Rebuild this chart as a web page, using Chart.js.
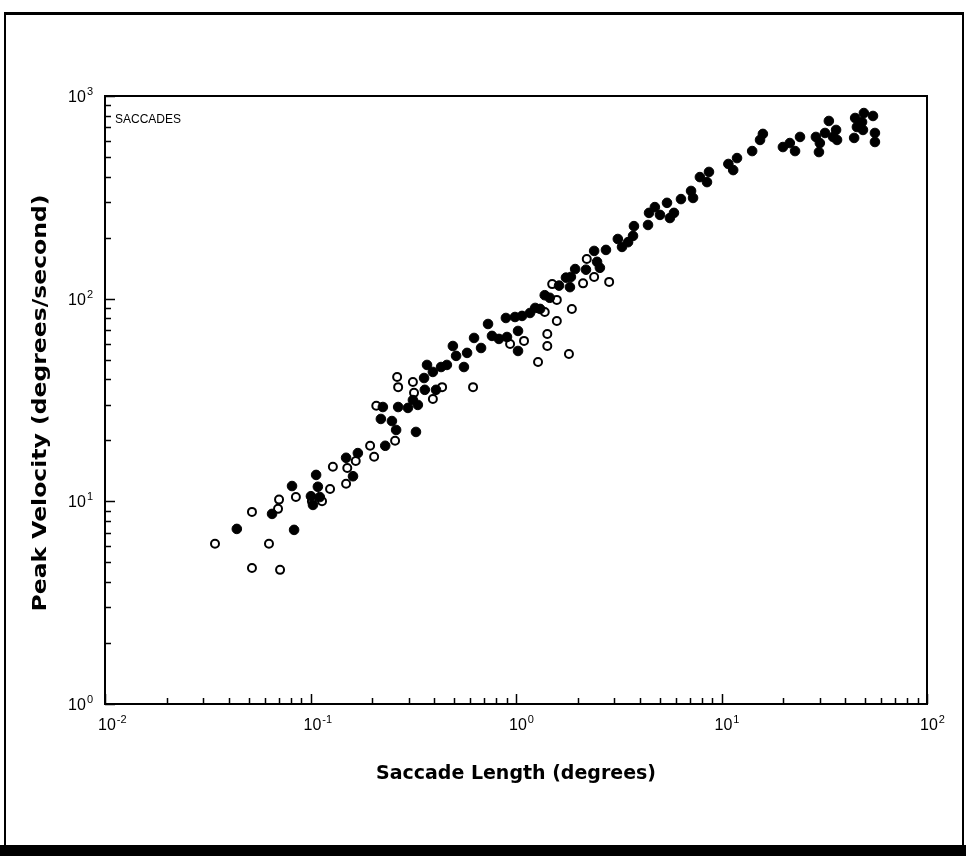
<!DOCTYPE html>
<html>
<head>
<meta charset="utf-8">
<title>Saccades</title>
<script src="https://cdn.jsdelivr.net/npm/chart.js@4.4.1/dist/chart.umd.min.js"></script>
<style>
  html, body { margin: 0; padding: 0; background: #fff; }
  body { width: 966px; height: 856px; position: relative; overflow: hidden; }
  #frame {
    position: absolute; left: 4px; top: 12px; width: 960px; height: 834px;
    box-sizing: border-box;
    border-top: 3px solid #000; border-left: 2px solid #000; border-right: 2px solid #000;
  }
  #bar { position: absolute; left: 0; top: 845px; width: 966px; height: 11px; background: #000; }
  #wrap { position: absolute; left: 0; top: 0; width: 966px; height: 856px; }
</style>
</head>
<body>
<div id="frame"></div>
<div id="bar"></div>
<div id="wrap"><canvas id="saccadeChart" width="966" height="856"></canvas></div>
<script>
// saccade length (degrees) / peak velocity (deg/s)
const filledLength = [
  0.0438, 0.0650, 0.0832, 0.0813, 0.1005, 0.1028, 0.1086, 0.111, 0.1065, 0.161,
  0.149, 0.170, 0.231, 0.220, 0.249, 0.261, 0.326, 0.225, 0.267, 0.298,
  0.315, 0.333, 0.360, 0.357, 0.369, 0.408, 0.394, 0.432, 0.461, 0.558,
  0.511, 0.578, 0.676, 0.493, 0.625, 0.731, 0.764, 0.826, 0.904, 1.023,
  1.023, 0.893, 0.989, 1.07, 1.17, 1.24, 1.31, 1.38, 1.46, 1.62,
  1.75, 1.83, 1.94, 1.85, 2.19, 2.40, 2.48, 2.56, 2.74, 3.13,
  3.28, 3.51, 3.71, 3.75, 4.39, 4.44, 4.74, 5.02, 5.43, 5.61,
  5.87, 6.35, 7.11, 7.27, 7.85, 8.50, 8.69, 10.8, 11.4, 11.9,
  14.1, 15.4, 15.9, 19.9, 21.5, 22.8, 24.1, 28.8, 30.1, 29.8,
  31.9, 33.3, 34.9, 36.1, 36.5, 44.2, 44.7, 45.6, 48.3, 49.3,
  48.8, 54.6, 55.8, 55.8
];
const filledVelocity = [
  7.31, 8.67, 7.23, 11.9, 10.6, 9.60, 11.8, 10.5, 13.5, 13.3,
  16.4, 17.3, 18.8, 25.5, 24.9, 22.5, 22.0, 29.2, 29.2, 28.9,
  31.6, 29.9, 35.5, 40.6, 47.1, 35.5, 43.5, 46.0, 47.1, 46.0,
  52.2, 54.0, 57.1, 58.4, 64.0, 75.0, 65.5, 63.3, 64.7, 69.3,
  55.2, 80.3, 81.2, 82.2, 85.0, 90.0, 89.0, 104, 101, 116,
  127, 114, 140, 128, 139, 172, 152, 142, 174, 197,
  180, 190, 204, 228, 231, 265, 283, 259, 297, 250,
  265, 310, 340, 314, 398, 376, 422, 462, 431, 494,
  535, 607, 650, 560, 586, 535, 628, 628, 586, 529,
  657, 753, 628, 680, 607, 621, 779, 703, 744, 824,
  680, 797, 657, 593
];
const openLength = [
  0.0343, 0.0519, 0.0628, 0.0519, 0.0711, 0.0695, 0.0703, 0.0849, 0.1016, 0.1138,
  0.1245, 0.1285, 0.149, 0.151, 0.166, 0.195, 0.204, 0.258, 0.209, 0.319,
  0.315, 0.264, 0.267, 0.394, 0.437, 0.618, 0.936, 1.094, 1.28, 1.38,
  1.42, 1.42, 1.58, 1.58, 1.81, 1.87, 1.50, 2.12, 2.40, 2.84,
  2.21
];
const openVelocity = [
  6.17, 8.87, 6.17, 4.69, 4.59, 9.18, 10.2, 10.5, 10.0, 10.0,
  11.5, 14.8, 12.2, 14.6, 15.8, 18.8, 16.6, 19.9, 29.6, 34.3,
  38.8, 41.1, 36.6, 32.0, 36.6, 36.6, 59.8, 61.9, 48.7, 86.0,
  67.0, 58.4, 77.6, 98.6, 53.3, 89.0, 118, 119, 128, 121,
  157
];

const xDecades = [0.01, 0.1, 1, 10, 100];
const xExponents = ["-2", "-1", "0", "1", "2"];
const yDecades = [1, 10, 100, 1000];
const yExponents = ["0", "1", "2", "3"];

const xTitle = "Saccade Length (degrees)";
const yTitle = "Peak Velocity (degrees/second)";
const panelLabel = "SACCADES";

const TITLE_FONT = "bold 19px 'DejaVu Sans', 'Liberation Sans', Arial, sans-serif";
const BASE_FONT = "16px 'Liberation Sans', Arial, sans-serif";
const SUP_FONT = "11px 'Liberation Sans', Arial, sans-serif";

function toPoints(xs, ys) {
    return xs.map((x, i) => ({ x: x, y: ys[i] }));
}

// draw a title squeezed / stretched to a target width
function fitText(ctx, text, cx, cy, width, font) {
    ctx.save();
    ctx.font = font;
    const w = ctx.measureText(text).width;
    ctx.translate(cx, cy);
    ctx.scale(width / w, 1);
    ctx.textAlign = "center";
    ctx.textBaseline = "middle";
    ctx.fillText(text, 0, 0);
    ctx.restore();
}

function power(ctx, exp, x, y, align) {
    ctx.font = BASE_FONT;
    const base = ctx.measureText("10").width;
    ctx.font = SUP_FONT;
    const sup = ctx.measureText(exp).width;
    let left = x;
    if (align === "right") left = x - base - sup - 1;
    ctx.font = BASE_FONT;
    ctx.fillText("10", left, y);
    ctx.font = SUP_FONT;
    ctx.fillText(exp, left + base + 1, y - 7);
}

const axesPlugin = {
    id: "logAxes",
    afterDraw(chart) {
        const { ctx, chartArea: a, scales } = chart;
        const xs = scales.x, ys = scales.y;
        ctx.save();
        ctx.strokeStyle = "#000";
        ctx.fillStyle = "#000";

        // box
        ctx.lineWidth = 2;
        ctx.strokeRect(a.left, a.top, a.right - a.left, a.bottom - a.top);

        // inward ticks, log spaced
        ctx.lineWidth = 1.5;
        ctx.beginPath();
        xDecades.forEach(d => {
            for (let m = 1; m <= 9; m++) {
                const v = d * m;
                if (v > xs.max * 1.0001) break;
                const px = Math.round(xs.getPixelForValue(v)) + 0.5;
                const len = m === 1 ? 10 : 6;
                ctx.moveTo(px, a.bottom);
                ctx.lineTo(px, a.bottom - len);
            }
        });
        yDecades.forEach(d => {
            for (let m = 1; m <= 9; m++) {
                const v = d * m;
                if (v > ys.max * 1.0001) break;
                const py = Math.round(ys.getPixelForValue(v)) + 0.5;
                const len = m === 1 ? 10 : 6;
                ctx.moveTo(a.left, py);
                ctx.lineTo(a.left + len, py);
            }
        });
        ctx.stroke();

        // tick labels 10^n
        ctx.textBaseline = "alphabetic";
        ctx.textAlign = "left";
        xDecades.forEach((d, i) => {
            const px = xs.getPixelForValue(d);
            power(ctx, xExponents[i], px - 7, a.bottom + 26, "left");
        });
        yDecades.forEach((d, i) => {
            const py = ys.getPixelForValue(d);
            power(ctx, yExponents[i], a.left - 12, py + 6, "right");
        });

        // axis titles
        fitText(ctx, xTitle, (a.left + a.right) / 2, 774, 280, TITLE_FONT);
        ctx.save();
        ctx.translate(41, (a.top + a.bottom) / 2 + 3);
        ctx.rotate(-Math.PI / 2);
        fitText(ctx, yTitle, 0, 0, 417, TITLE_FONT);
        ctx.restore();

        // panel label
        ctx.font = "12px 'Liberation Sans', Arial, sans-serif";
        ctx.textAlign = "left";
        ctx.textBaseline = "alphabetic";
        ctx.fillText(panelLabel, a.left + 10, a.top + 27);
        ctx.restore();
    }
};

const canvas = document.getElementById("saccadeChart");

new Chart(canvas, {
    type: "scatter",
    data: {
        datasets: [
            {
                label: "filled",
                data: toPoints(filledLength, filledVelocity),
                pointRadius: 4.8,
                pointBackgroundColor: "#000",
                pointBorderColor: "#000",
                pointBorderWidth: 1
            },
            {
                label: "open",
                data: toPoints(openLength, openVelocity),
                pointRadius: 4,
                pointBackgroundColor: "#fff",
                pointBorderColor: "#000",
                pointBorderWidth: 2
            }
        ]
    },
    options: {
        responsive: false,
        animation: false,
        layout: { padding: { top: 96, right: 39, left: 0, bottom: 0 } },
        plugins: {
            legend: { display: false },
            tooltip: { enabled: false }
        },
        scales: {
            x: {
                type: "logarithmic",
                min: 0.01,
                max: 100,
                grid: { display: false },
                border: { display: false },
                ticks: { display: false },
                afterFit(scale) { scale.height = 152; }
            },
            y: {
                type: "logarithmic",
                min: 1,
                max: 1000,
                grid: { display: false },
                border: { display: false },
                ticks: { display: false },
                afterFit(scale) { scale.width = 105; }
            }
        }
    },
    plugins: [axesPlugin]
});
</script>
</body>
</html>
